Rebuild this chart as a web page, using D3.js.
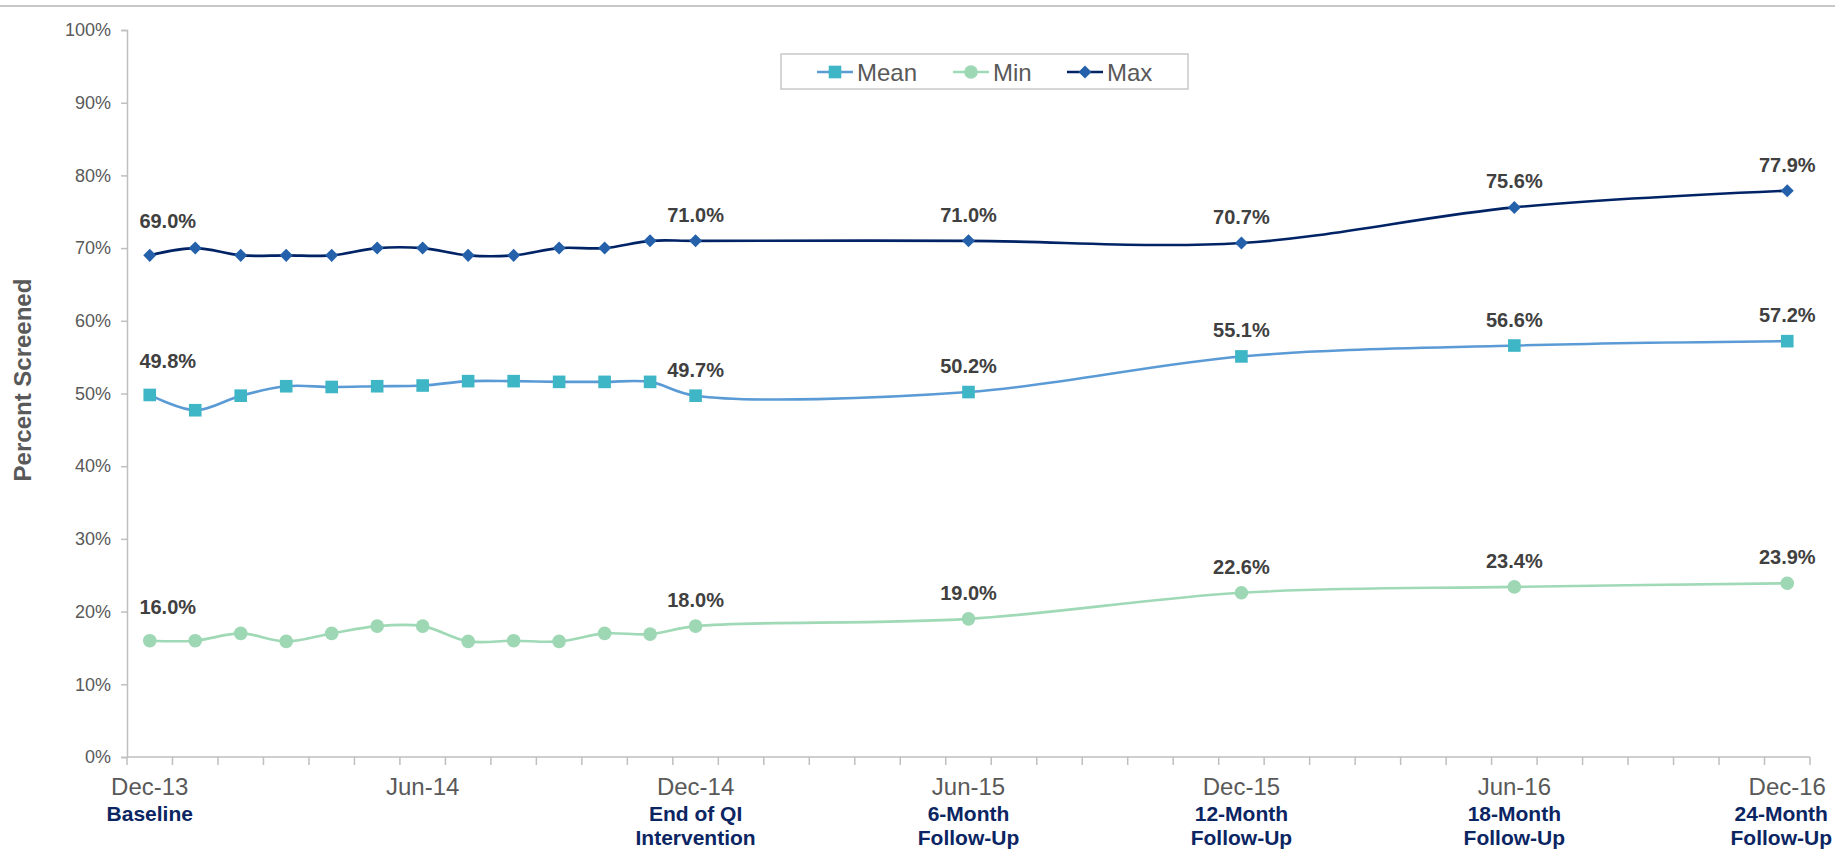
<!DOCTYPE html>
<html>
<head>
<meta charset="utf-8">
<script src="https://cdn.jsdelivr.net/npm/d3@7"></script>
<style>
  body { margin: 0; background: #fff; }
  svg { display: block; font-family: "Liberation Sans", Arial, sans-serif; }
</style>
</head>
<body>
<div id="chart"></div>
<script>
// every month on the axis (category bands)
var months = ["Dec-13","Jan-14","Feb-14","Mar-14","Apr-14","May-14","Jun-14","Jul-14","Aug-14","Sep-14","Oct-14","Nov-14","Dec-14",
  "Jan-15","Feb-15","Mar-15","Apr-15","May-15","Jun-15","Jul-15","Aug-15","Sep-15","Oct-15","Nov-15","Dec-15",
  "Jan-16","Feb-16","Mar-16","Apr-16","May-16","Jun-16","Jul-16","Aug-16","Sep-16","Oct-16","Nov-16","Dec-16"];

// months that have a measurement
var pointMonths = ["Dec-13","Jan-14","Feb-14","Mar-14","Apr-14","May-14","Jun-14","Jul-14","Aug-14","Sep-14","Oct-14","Nov-14","Dec-14",
  "Jun-15","Dec-15","Jun-16","Dec-16"];

var meanValues = [49.8, 47.7, 49.7, 51.0, 50.9, 51.0, 51.1, 51.7, 51.7, 51.6, 51.6, 51.6, 49.7, 50.2, 55.1, 56.6, 57.2];
var minValues  = [16.0, 16.0, 17.0, 15.9, 17.0, 18.0, 18.0, 15.9, 16.0, 15.9, 17.0, 16.9, 18.0, 19.0, 22.6, 23.4, 23.9];
var maxValues  = [69.0, 70.0, 69.0, 69.0, 69.0, 70.0, 70.0, 69.0, 69.0, 70.0, 70.0, 71.0, 71.0, 71.0, 70.7, 75.6, 77.9];

// which points carry a value label
var labelledMonths = ["Dec-13","Dec-14","Jun-15","Dec-15","Jun-16","Dec-16"];

var tickLabels = ["Dec-13","Jun-14","Dec-14","Jun-15","Dec-15","Jun-16","Dec-16"];
var phaseLine1 = ["Baseline","","End of QI","6-Month","12-Month","18-Month","24-Month"];
var phaseLine2 = ["","","Intervention","Follow-Up","Follow-Up","Follow-Up","Follow-Up"];

var yTicks = [0,10,20,30,40,50,60,70,80,90,100];

var width = 1835, height = 854;
var plotLeft = 127, plotRight = 1810, plotTop = 30, plotBottom = 757;

var svg = d3.select("#chart").append("svg")
    .attr("width", width)
    .attr("height", height);

// thin frame line along the top
svg.append("line")
    .attr("x1", 0).attr("x2", width)
    .attr("y1", 6).attr("y2", 6)
    .attr("stroke", "#c8c8c8")
    .attr("stroke-width", 2);

var x = d3.scaleBand()
    .domain(months)
    .range([plotLeft, plotRight]);

var y = d3.scaleLinear()
    .domain([0, 100])
    .range([plotBottom, plotTop]);

var cx = function(m) { return x(m) + x.bandwidth() / 2; };

// y axis
var yAxis = svg.append("g")
    .attr("transform", "translate(" + plotLeft + ",0)")
    .call(d3.axisLeft(y).tickValues(yTicks).tickSize(6).tickPadding(10)
      .tickFormat(function(d) { return d + "%"; }));
yAxis.select(".domain").attr("stroke", "#bfbfbf").attr("stroke-width", 1.5);
yAxis.selectAll(".tick line").attr("stroke", "#bfbfbf").attr("stroke-width", 1.5);
yAxis.selectAll(".tick text")
    .attr("fill", "#595959")
    .style("font-size", "18px");

// x axis: line plus a tick at every month boundary
svg.append("line")
    .attr("x1", plotLeft).attr("x2", plotRight)
    .attr("y1", plotBottom).attr("y2", plotBottom)
    .attr("stroke", "#bfbfbf").attr("stroke-width", 1.5);

svg.selectAll(".mtick")
    .data(months.concat(["end"]))
  .enter().append("line")
    .attr("class", "mtick")
    .attr("x1", function(d) { return d === "end" ? plotRight : x(d); })
    .attr("x2", function(d) { return d === "end" ? plotRight : x(d); })
    .attr("y1", plotBottom)
    .attr("y2", plotBottom + 8)
    .attr("stroke", "#bfbfbf").attr("stroke-width", 1.5);

var xAxis = svg.append("g")
    .attr("transform", "translate(0," + plotBottom + ")")
    .call(d3.axisBottom(x).tickValues(tickLabels).tickSize(0));
xAxis.select(".domain").remove();
xAxis.selectAll(".tick text")
    .attr("y", 38).attr("dy", 0)
    .attr("fill", "#595959")
    .style("font-size", "24px");

// phase labels under the axis (kept inside the right edge)
tickLabels.forEach(function(m, i) {
  var g = svg.append("text")
      .attr("text-anchor", "middle")
      .attr("fill", "#0b2563")
      .style("font-size", "21px")
      .style("font-weight", "bold");
  var t1 = g.append("tspan").attr("x", cx(m)).attr("y", 821).text(phaseLine1[i]);
  var t2 = g.append("tspan").attr("x", cx(m)).attr("y", 845).text(phaseLine2[i]);
  var w = Math.max(t1.node().getComputedTextLength(), t2.node().getComputedTextLength());
  var c = Math.min(cx(m), width - 3 - w / 2);
  t1.attr("x", c);
  t2.attr("x", c);
});

// y axis title
svg.append("text")
    .attr("transform", "translate(31,380) rotate(-90)")
    .attr("text-anchor", "middle")
    .attr("fill", "#595959")
    .style("font-size", "24px")
    .style("font-weight", "bold")
    .text("Percent Screened");

var series = [
  { name: "Mean", values: meanValues, line: "#5b9bd5", marker: "#3fb6c6", shape: "square" },
  { name: "Min",  values: minValues,  line: "#a0d9b6", marker: "#9dd7b4", shape: "circle" },
  { name: "Max",  values: maxValues,  line: "#002366", marker: "#2461aa", shape: "diamond" }
];

var line = d3.line()
    .x(function(d) { return cx(d.month); })
    .y(function(d) { return y(d.value); })
    .curve(d3.curveCatmullRom.alpha(0.5));

function drawMarker(sel, s) {
  if (s.shape === "circle") {
    sel.append("circle").attr("r", 6.8).attr("fill", s.marker);
  } else if (s.shape === "square") {
    sel.append("rect").attr("x", -6.3).attr("y", -6.3).attr("width", 12.6).attr("height", 12.6).attr("fill", s.marker);
  } else {
    sel.append("rect").attr("x", -4.6).attr("y", -4.6).attr("width", 9.2).attr("height", 9.2)
      .attr("transform", "rotate(45)").attr("fill", s.marker);
  }
}

series.forEach(function(s) {
  var pts = pointMonths.map(function(m, i) { return { month: m, value: s.values[i] }; });

  svg.append("path")
      .datum(pts)
      .attr("fill", "none")
      .attr("stroke", s.line)
      .attr("stroke-width", 2.6)
      .attr("d", line);

  svg.selectAll(".pt-" + s.name)
      .data(pts)
    .enter().append("g")
      .attr("class", "pt-" + s.name)
      .attr("transform", function(d) { return "translate(" + cx(d.month) + "," + y(d.value) + ")"; })
      .each(function() { drawMarker(d3.select(this), s); });

  svg.selectAll(".lbl-" + s.name)
      .data(pts.filter(function(d) { return labelledMonths.indexOf(d.month) >= 0; }))
    .enter().append("text")
      .attr("class", "lbl-" + s.name)
      .attr("x", function(d, i) { return cx(d.month) + (i === 0 ? 18 : 0); })
      .attr("y", function(d, i) { return y(d.value) - (i === 0 ? 27 : 19); })
      .attr("text-anchor", "middle")
      .attr("fill", "#404040")
      .style("font-size", "20px")
      .style("font-weight", "bold")
      .text(function(d) { return d.value.toFixed(1) + "%"; });
});

// legend
var legend = svg.append("g");
legend.append("rect")
    .attr("x", 781).attr("y", 54)
    .attr("width", 407).attr("height", 35)
    .attr("fill", "#fff")
    .attr("stroke", "#c8c8c8")
    .attr("stroke-width", 1.5);

var legendX = [817, 953, 1067];
series.forEach(function(s, i) {
  var g = legend.append("g").attr("transform", "translate(" + legendX[i] + ",72)");
  g.append("line").attr("x1", 0).attr("x2", 36).attr("stroke", s.line).attr("stroke-width", 2.6);
  var m = g.append("g").attr("transform", "translate(18,0)");
  drawMarker(m, s);
  g.append("text")
      .attr("x", 40).attr("y", 9)
      .attr("fill", "#595959")
      .style("font-size", "24px")
      .text(s.name);
});
</script>
</body>
</html>
